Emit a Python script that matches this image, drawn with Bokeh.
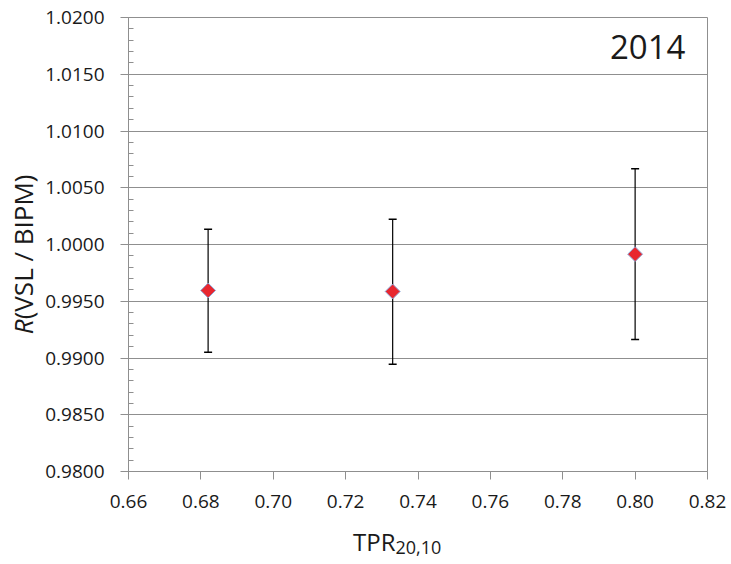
import math
from bokeh.plotting import figure
from bokeh.layouts import column, row
from bokeh.models import (ColumnDataSource, Range1d, FixedTicker,
                          NumeralTickFormatter, Whisker, TeeHead, Label)
from bokeh.core.properties import value
from bokeh.embed import file_html
from bokeh.resources import INLINE

# ---- data ----
tpr = [0.682, 0.733, 0.800]
ratio = [0.99595, 0.99586, 0.99915]
upper = [1.00135, 1.00223, 1.00667]
lower = [0.99051, 0.98945, 0.99163]
x_ticks = [0.66, 0.68, 0.70, 0.72, 0.74, 0.76, 0.78, 0.80, 0.82]
y_ticks = [0.980, 0.985, 0.990, 0.995, 1.000, 1.005, 1.010, 1.015, 1.020]
y_minor = [round(0.980 + 0.001 * i, 3) for i in range(41)]
year_text = "2014"
x_label_main = "TPR"
x_label_sub = "20,10"
y_label_italic = "R"
y_label_rest = "(VSL / BIPM)"

FONT = "Open Sans"
GRID = "#8f8f8f"
TXT = "#1a1a1a"

TOTAL_W = 731
YW = 42          # width of the y-label strip
MAIN_H = 522
XH = 42          # height of the x-label strip


def blank(width, height, xr, yr):
    f = figure(width=width, height=height, output_backend="svg", toolbar_location=None,
               x_range=xr, y_range=yr, x_axis_location=None, y_axis_location=None,
               min_border=0)
    f.outline_line_color = None
    f.grid.grid_line_color = None
    f.background_fill_color = "white"
    f.border_fill_color = "white"
    return f


# ---- main chart ----
p = figure(width=TOTAL_W - YW, height=MAIN_H, output_backend="svg", toolbar_location=None,
           x_range=Range1d(0.66, 0.82), y_range=Range1d(0.98, 1.02),
           min_border_left=126 - YW, min_border_right=24,
           min_border_top=17, min_border_bottom=MAIN_H - 471)
p.background_fill_color = "white"
p.border_fill_color = "white"
p.outline_line_color = GRID
p.outline_line_width = 1

p.xaxis.ticker = FixedTicker(ticks=x_ticks)
p.yaxis.ticker = FixedTicker(ticks=y_ticks, minor_ticks=y_minor)
p.xaxis.formatter = NumeralTickFormatter(format="0.00")
p.yaxis.formatter = NumeralTickFormatter(format="0.0000")
for ax in (p.xaxis[0], p.yaxis[0]):
    ax.axis_line_color = GRID
    ax.axis_line_width = 1
    ax.major_tick_line_color = GRID
    ax.major_tick_in = 0
    ax.major_tick_out = 8
    ax.major_label_text_font = FONT
    ax.major_label_text_font_size = "19px"
    ax.major_label_text_color = TXT
p.xaxis.minor_tick_line_color = None
p.yaxis.minor_tick_line_color = GRID
p.yaxis.minor_tick_in = 5
p.yaxis.minor_tick_out = 0
p.xaxis.major_label_standoff = 15
p.yaxis.major_label_standoff = 16

p.xgrid.grid_line_color = None
p.ygrid.grid_line_color = GRID
p.ygrid.grid_line_width = 1

src = ColumnDataSource(dict(x=tpr, y=ratio, up=upper, lo=lower))

w = Whisker(base="x", upper="up", lower="lo", source=src,
            line_color="black", line_width=1.2,
            upper_head=TeeHead(size=8, line_color="black", line_width=1.5),
            lower_head=TeeHead(size=8, line_color="black", line_width=1.5))
p.add_layout(w)

p.scatter("x", "y", source=src, marker="square", angle=math.pi / 4, size=10.5,
          fill_color="#E8272F", line_color="#8EA6D6", line_width=1)

p.add_layout(Label(x=0.8139, y=1.01744, text=year_text, text_align="right",
                   text_baseline="alphabetic", text_font=FONT,
                   text_font_size="33px", text_color=TXT))

# ---- y-label strip (pixel coordinates, origin bottom-left) ----
yl = blank(YW, MAIN_H, Range1d(0, YW), Range1d(0, MAIN_H))
yj = 175
yl.text(x=[22], y=[yj], text=[y_label_italic], angle=math.pi / 2,
        text_align="right", text_baseline="alphabetic",
        text_font=value(FONT), text_font_size="26px", text_font_style="italic",
        text_color=TXT)
yl.text(x=[22], y=[yj], text=[y_label_rest], angle=math.pi / 2,
        text_align="left", text_baseline="alphabetic",
        text_font=value(FONT), text_font_size="26px", text_color=TXT)

# ---- x-label strip ----
xl = blank(TOTAL_W, XH, Range1d(0, TOTAL_W), Range1d(0, XH))
xl.text(x=[395], y=[23], text=[x_label_main], text_align="right",
        text_baseline="alphabetic", text_font=value(FONT), text_font_size="24px",
        text_color=TXT)
xl.text(x=[395], y=[17], text=[x_label_sub], text_align="left",
        text_baseline="alphabetic", text_font=value(FONT), text_font_size="18px",
        text_color=TXT)

layout = column(row(yl, p), xl)
open("out.html", "w").write(file_html(layout, INLINE))
